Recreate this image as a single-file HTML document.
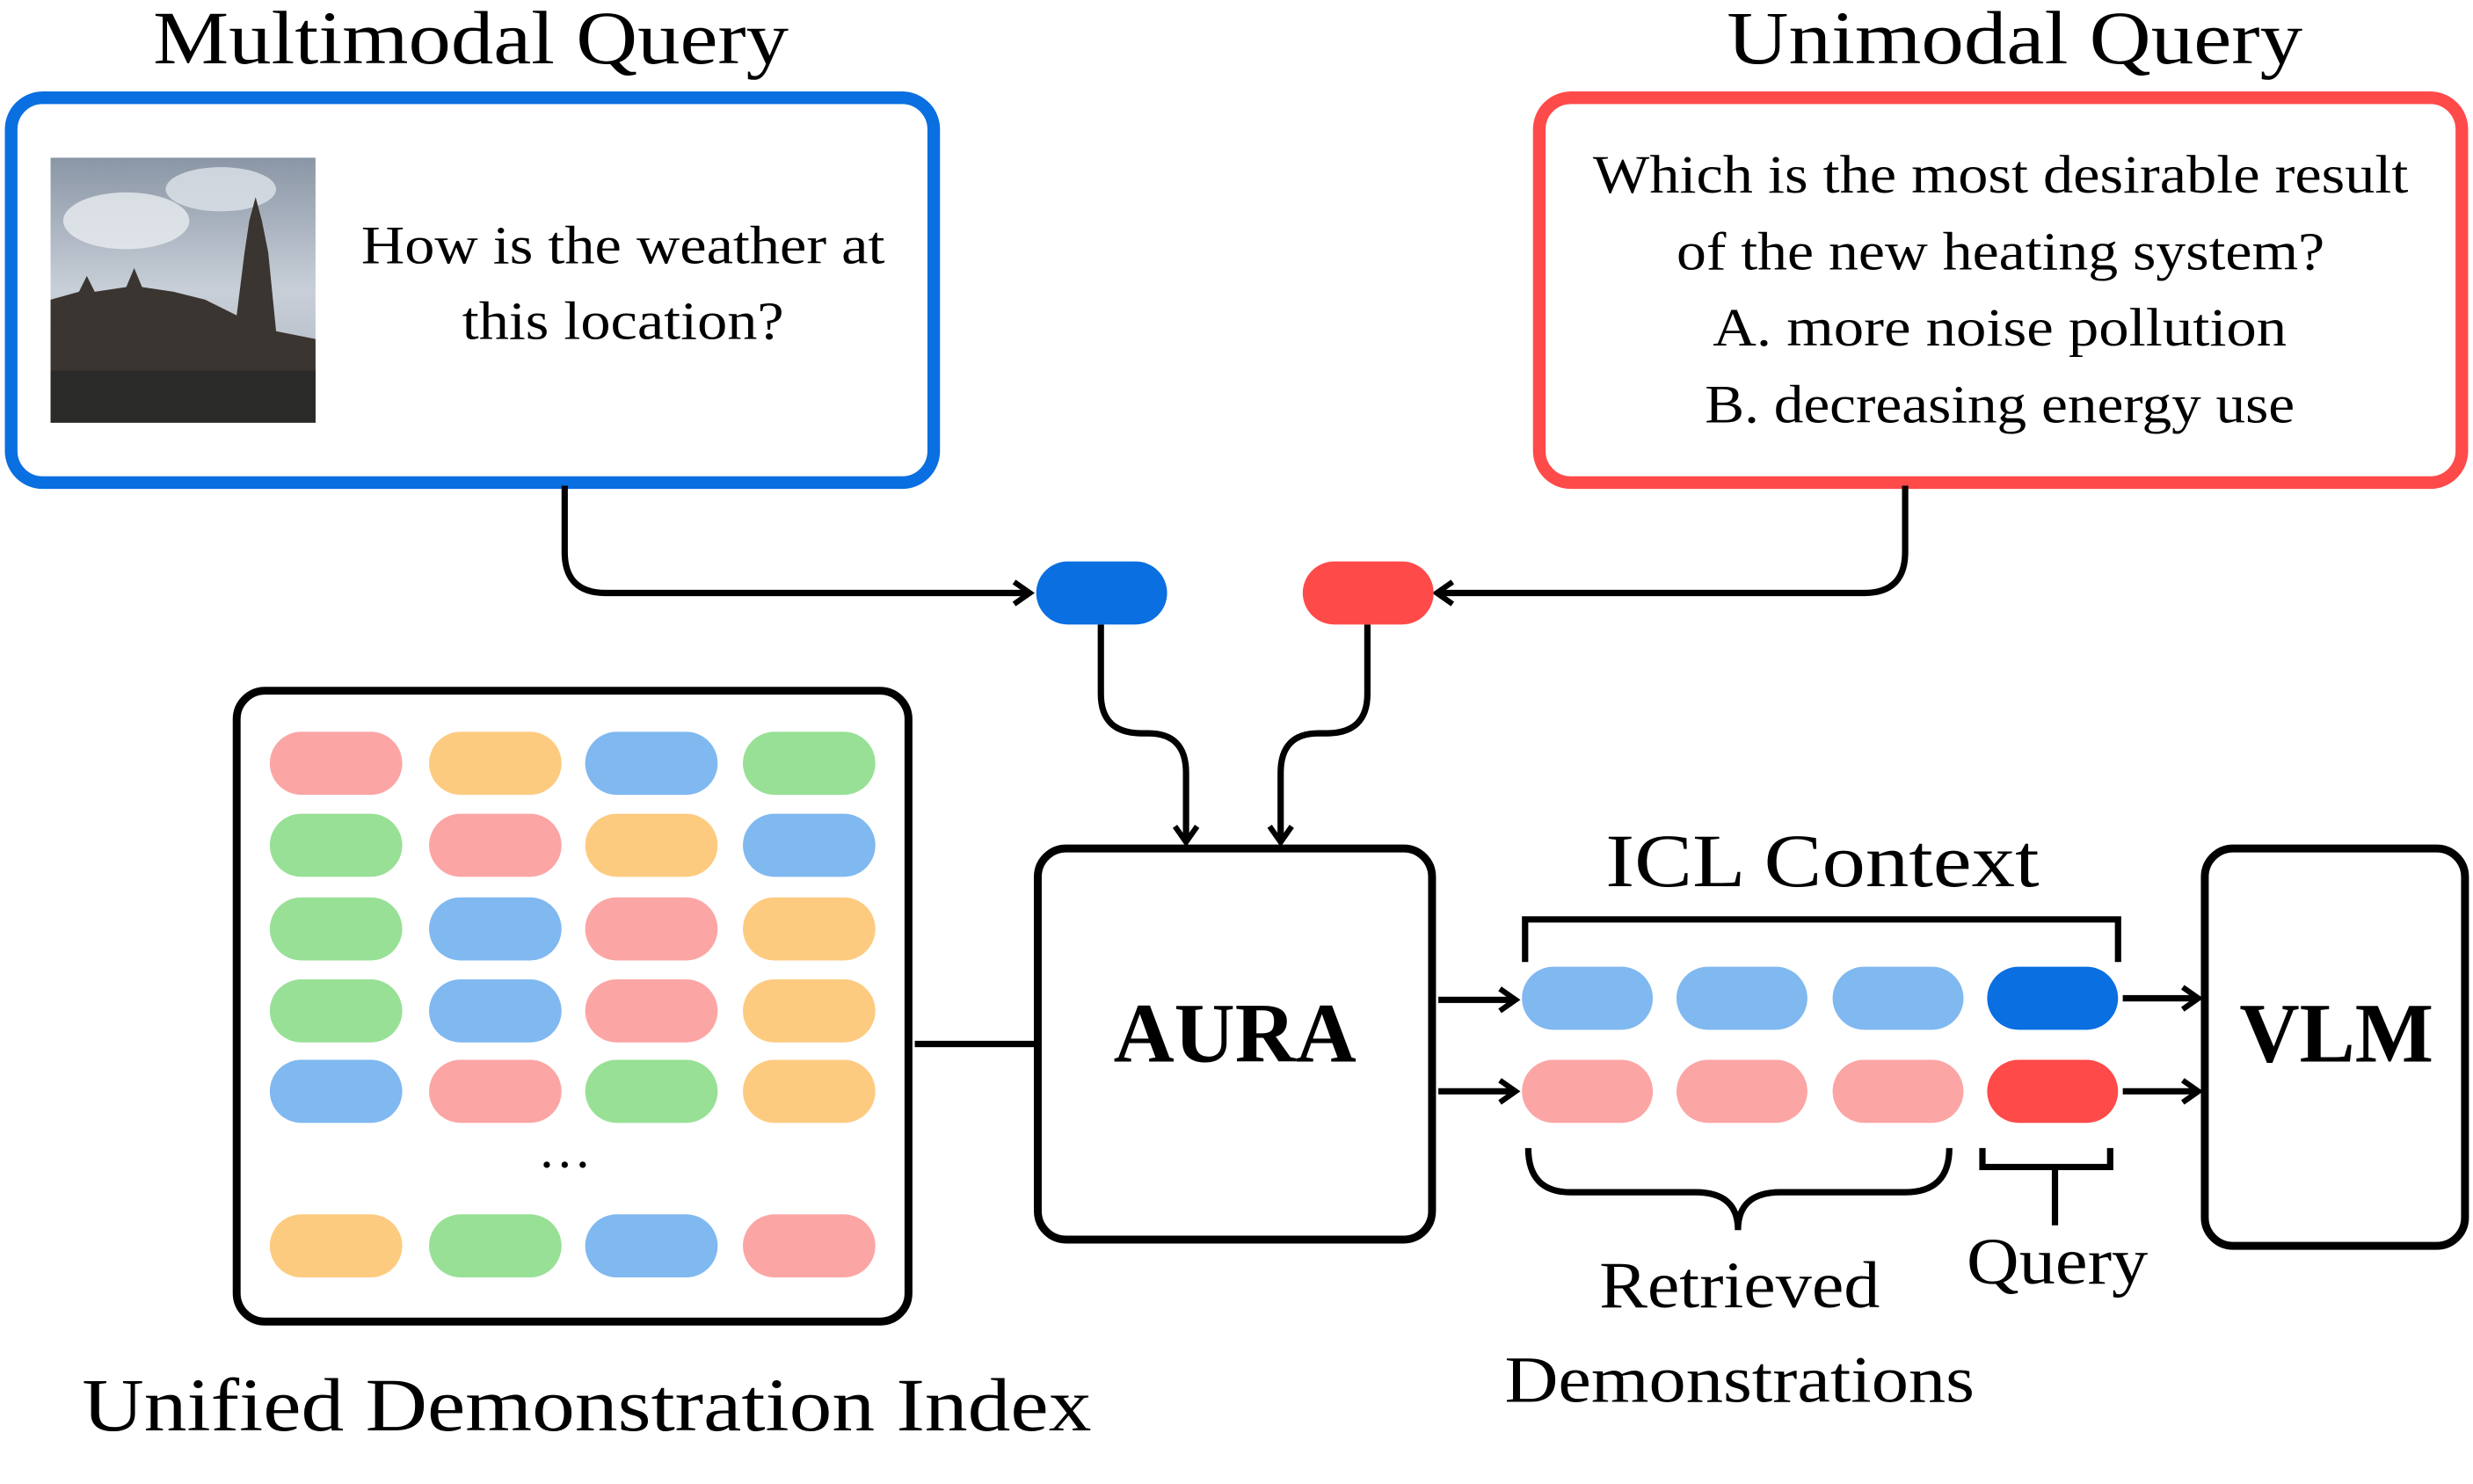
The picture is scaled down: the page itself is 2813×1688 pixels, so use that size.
<!DOCTYPE html>
<html><head><meta charset="utf-8"><style>
html,body{margin:0;padding:0;background:#fff;}
svg{display:block;}
text{font-family:"Liberation Serif",serif;fill:#000;}
</style></head><body>
<svg width="2813" height="1688" viewBox="0 0 1568 941" xmlns="http://www.w3.org/2000/svg">
<defs>
<marker id="ah" markerWidth="16" markerHeight="18" refX="12" refY="9" orient="auto" markerUnits="userSpaceOnUse">
<path d="M2,2 L12,9 L2,16" fill="none" stroke="#000" stroke-width="3.5"/>
</marker>
<linearGradient id="sky" x1="0" y1="0" x2="0" y2="1">
<stop offset="0" stop-color="#8a96a6"/><stop offset="0.5" stop-color="#c8cfd8"/><stop offset="1" stop-color="#a8b0ba"/>
</linearGradient>
</defs>
<text x="97" y="40" font-size="48" textLength="403" lengthAdjust="spacingAndGlyphs">Multimodal Query</text>
<text x="1095" y="40" font-size="48" textLength="365" lengthAdjust="spacingAndGlyphs">Unimodal Query</text>
<rect x="7" y="62" width="585" height="244" rx="20" fill="none" stroke="#0a6fe0" stroke-width="8"/>
<rect x="976" y="62" width="585" height="244" rx="20" fill="none" stroke="#ff4a4a" stroke-width="8"/>
<rect x="32" y="100" width="168" height="168" fill="url(#sky)"/>
<ellipse cx="80" cy="140" rx="40" ry="18" fill="#e8ecf0" opacity="0.8"/>
<ellipse cx="140" cy="120" rx="35" ry="14" fill="#dfe4ea" opacity="0.8"/>
<path d="M32,268 L32,190 L50,185 L55,175 L60,185 L80,182 L85,170 L90,182 L110,185 L130,190 L150,200 L155,160 L158,140 L162,125 L166,140 L170,160 L175,210 L200,215 L200,268 Z" fill="#3a3530"/>
<rect x="32" y="235" width="168" height="33" fill="#2a2a28"/>
<text x="229" y="167" font-size="34" textLength="332" lengthAdjust="spacingAndGlyphs">How is the weather at</text>
<text x="293" y="215" font-size="34" textLength="204" lengthAdjust="spacingAndGlyphs">this location?</text>
<text x="1010" y="122" font-size="34" textLength="517" lengthAdjust="spacingAndGlyphs">Which is the most desirable result</text>
<text x="1063" y="171" font-size="34" textLength="411" lengthAdjust="spacingAndGlyphs">of the new heating system?</text>
<text x="1086" y="219" font-size="34" textLength="364" lengthAdjust="spacingAndGlyphs">A. more noise pollution</text>
<text x="1081" y="268" font-size="34" textLength="374" lengthAdjust="spacingAndGlyphs">B. decreasing energy use</text>
<g fill="none" stroke="#000" stroke-width="4">
<path d="M358,308 L358,350 Q358,376 384,376 L653,376" marker-end="url(#ah)"/>
<path d="M1208,308 L1208,350 Q1208,376 1182,376 L911,376" marker-end="url(#ah)"/>
<path d="M698,396 L698,440 Q698,465 724,465 L728,465 Q752,465 752,490 L752,534" marker-end="url(#ah)"/>
<path d="M867,396 L867,440 Q867,465 841,465 L836,465 Q812,465 812,490 L812,534" marker-end="url(#ah)"/>
<path d="M580,662 L658,662"/>
<path d="M912,634 L961,634" marker-end="url(#ah)"/>
<path d="M912,692 L961,692" marker-end="url(#ah)"/>
<path d="M1346,633 L1394,633" marker-end="url(#ah)"/>
<path d="M1346,692 L1394,692" marker-end="url(#ah)"/>
<path d="M967,610 L967,583 L1343,583 L1343,610"/>
<path d="M969,728 Q969,756 996,756 L1075,756 Q1102,756 1102,780 Q1102,756 1129,756 L1208,756 Q1236,756 1236,728"/>
<path d="M1257,728 L1257,740 L1338,740 L1338,728 M1303,740 L1303,777"/>
</g>
<rect x="657" y="356" width="83" height="40" rx="20" fill="#0a6fe0"/>
<rect x="826" y="356" width="83" height="40" rx="20" fill="#ff4a4a"/>
<rect x="150" y="438" width="426" height="400" rx="18" fill="none" stroke="#000" stroke-width="5"/>
<g>
<rect x="171" y="464" width="84" height="40" rx="20" fill="#fca5a5"/>
<rect x="272" y="464" width="84" height="40" rx="20" fill="#fdcb80"/>
<rect x="371" y="464" width="84" height="40" rx="20" fill="#80b8f0"/>
<rect x="471" y="464" width="84" height="40" rx="20" fill="#98e096"/>
<rect x="171" y="516" width="84" height="40" rx="20" fill="#98e096"/>
<rect x="272" y="516" width="84" height="40" rx="20" fill="#fca5a5"/>
<rect x="371" y="516" width="84" height="40" rx="20" fill="#fdcb80"/>
<rect x="471" y="516" width="84" height="40" rx="20" fill="#80b8f0"/>
<rect x="171" y="569" width="84" height="40" rx="20" fill="#98e096"/>
<rect x="272" y="569" width="84" height="40" rx="20" fill="#80b8f0"/>
<rect x="371" y="569" width="84" height="40" rx="20" fill="#fca5a5"/>
<rect x="471" y="569" width="84" height="40" rx="20" fill="#fdcb80"/>
<rect x="171" y="621" width="84" height="40" rx="20" fill="#98e096"/>
<rect x="272" y="621" width="84" height="40" rx="20" fill="#80b8f0"/>
<rect x="371" y="621" width="84" height="40" rx="20" fill="#fca5a5"/>
<rect x="471" y="621" width="84" height="40" rx="20" fill="#fdcb80"/>
<rect x="171" y="672" width="84" height="40" rx="20" fill="#80b8f0"/>
<rect x="272" y="672" width="84" height="40" rx="20" fill="#fca5a5"/>
<rect x="371" y="672" width="84" height="40" rx="20" fill="#98e096"/>
<rect x="471" y="672" width="84" height="40" rx="20" fill="#fdcb80"/>
<rect x="171" y="770" width="84" height="40" rx="20" fill="#fdcb80"/>
<rect x="272" y="770" width="84" height="40" rx="20" fill="#98e096"/>
<rect x="371" y="770" width="84" height="40" rx="20" fill="#80b8f0"/>
<rect x="471" y="770" width="84" height="40" rx="20" fill="#fca5a5"/>
</g>
<text x="358" y="740" font-size="34" text-anchor="middle">…</text>
<text x="52" y="907" font-size="48" textLength="640" lengthAdjust="spacingAndGlyphs">Unified Demonstration Index</text>
<rect x="658" y="538" width="250" height="248" rx="18" fill="none" stroke="#000" stroke-width="5"/>
<text x="706" y="673" font-size="54" font-weight="bold" textLength="154" lengthAdjust="spacingAndGlyphs">AURA</text>
<text x="1018" y="562" font-size="48" textLength="275" lengthAdjust="spacingAndGlyphs">ICL Context</text>
<rect x="965" y="613" width="83" height="40" rx="20" fill="#80b8f0"/>
<rect x="1063" y="613" width="83" height="40" rx="20" fill="#80b8f0"/>
<rect x="1162" y="613" width="83" height="40" rx="20" fill="#80b8f0"/>
<rect x="1260" y="613" width="83" height="40" rx="20" fill="#0a6fe0"/>
<rect x="965" y="672" width="83" height="40" rx="20" fill="#fca5a5"/>
<rect x="1063" y="672" width="83" height="40" rx="20" fill="#fca5a5"/>
<rect x="1162" y="672" width="83" height="40" rx="20" fill="#fca5a5"/>
<rect x="1260" y="672" width="83" height="40" rx="20" fill="#ff4a4a"/>
<rect x="1398" y="538" width="165" height="252" rx="18" fill="none" stroke="#000" stroke-width="5"/>
<text x="1420" y="673" font-size="54" font-weight="bold" textLength="123" lengthAdjust="spacingAndGlyphs">VLM</text>
<text x="1014" y="829" font-size="42" textLength="178" lengthAdjust="spacingAndGlyphs">Retrieved</text>
<text x="954" y="889" font-size="42" textLength="298" lengthAdjust="spacingAndGlyphs">Demonstrations</text>
<text x="1247" y="814" font-size="42" textLength="115" lengthAdjust="spacingAndGlyphs">Query</text>
</svg>
</body></html>
